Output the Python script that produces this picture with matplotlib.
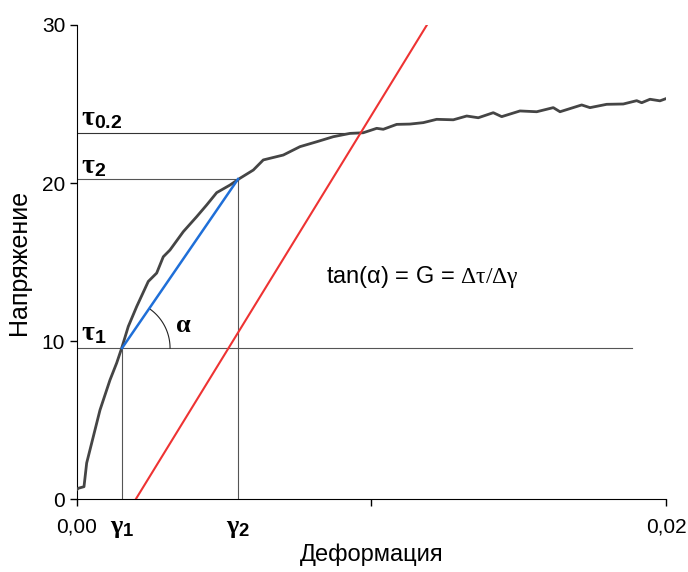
import numpy as np
import matplotlib
matplotlib.use("Agg")
import matplotlib.pyplot as plt

plt.rcParams['font.family'] = ['Liberation Sans', 'DejaVu Sans']
plt.rcParams['mathtext.fontset'] = 'custom'
plt.rcParams['mathtext.rm'] = 'Liberation Serif'
plt.rcParams['mathtext.it'] = 'Liberation Serif'
plt.rcParams['mathtext.bf'] = 'Liberation Serif:bold'
plt.rcParams['mathtext.sf'] = 'Liberation Sans:bold'

# stress-strain curve
strain = [0.0, 0.000044, 0.000238, 0.000329, 0.000499, 0.000781, 0.00112, 0.001348,
          0.001518, 0.001742, 0.002027, 0.002421, 0.002706, 0.00293, 0.003158,
          0.00361, 0.004065, 0.004404, 0.004744, 0.005195, 0.005535, 0.005987,
          0.006326, 0.007005, 0.007572, 0.008139, 0.008703, 0.00927, 0.009721,
          0.010177, 0.0104, 0.010856, 0.011307, 0.011759, 0.012214, 0.012778,
          0.013233, 0.013627, 0.014136, 0.014421, 0.015042, 0.01561, 0.016173,
          0.016401, 0.017137, 0.017419, 0.017986, 0.01855, 0.019005, 0.019175,
          0.019457, 0.019796, 0.02]
stress = [0.60, 0.68, 0.78, 2.28, 3.54, 5.63, 7.53, 8.61,
          9.55, 10.92, 12.18, 13.77, 14.30, 15.33, 15.76,
          16.92, 17.87, 18.61, 19.39, 19.87, 20.30, 20.82,
          21.46, 21.77, 22.30, 22.61, 22.93, 23.14, 23.18,
          23.46, 23.40, 23.71, 23.73, 23.82, 24.03, 24.00,
          24.24, 24.13, 24.45, 24.20, 24.56, 24.51, 24.77,
          24.51, 24.94, 24.77, 24.98, 25.00, 25.21, 25.08,
          25.30, 25.20, 25.34]

gamma1, tau1 = 0.00153, 9.55
gamma2, tau2 = 0.00547, 20.25
tau02 = 23.15
offset = 0.002          # 0.2 % offset line
slope = 3036.0          # elastic modulus line slope
tau1_line_end = 0.01885

fig = plt.figure(figsize=(6.88, 5.72), dpi=100)
ax = fig.add_axes([0.1119, 0.1276, 0.8561, 0.8287])

ax.plot(strain, stress, color='#454545', lw=2.0, zorder=3)

# offset line
red_x = np.array([offset, offset + 30 / slope])
ax.plot(red_x, slope * (red_x - offset), color='#ee3333', lw=1.5, zorder=4)

# chord between tau1 and tau2
ax.plot([gamma1, gamma2], [tau1, tau2], color='#1f6fd8', lw=1.8, zorder=4)

# helper lines
x02 = offset + tau02 / slope
ax.plot([0, x02], [tau02, tau02], color='#333333', lw=0.8, zorder=2)
ax.plot([0, gamma2], [tau2, tau2], color='#555555', lw=0.8, zorder=2)
ax.plot([0, tau1_line_end], [tau1, tau1], color='#555555', lw=0.8, zorder=2)
ax.plot([gamma1, gamma1], [0, tau1], color='#555555', lw=0.8, zorder=2)
ax.plot([gamma2, gamma2], [0, tau2], color='#555555', lw=0.8, zorder=2)

ax.set_xlim(0, 0.02)
ax.set_ylim(0, 30)

# arc for alpha, drawn in screen space
fig.canvas.draw()
c = ax.transData.transform((gamma1, tau1))
p2 = ax.transData.transform((gamma2, tau2))
ang = np.arctan2(p2[1] - c[1], p2[0] - c[0])
t = np.linspace(0, ang, 40)
r = 48
pts = np.column_stack([c[0] + r * np.cos(t), c[1] + r * np.sin(t)])
arc = ax.transData.inverted().transform(pts)
ax.plot(arc[:, 0], arc[:, 1], color='#222222', lw=0.8, zorder=3)

# labels
ax.text(0.00015, 23.65, r'$\mathbf{\tau}_{\mathsf{0.2}}$', fontsize=20, va='baseline')
ax.text(0.00015, 20.65, r'$\mathbf{\tau}_{\mathsf{2}}$', fontsize=20, va='baseline')
ax.text(0.00015, 10.05, r'$\mathbf{\tau}_{\mathsf{1}}$', fontsize=20, va='baseline')
ax.text(0.00333, 10.6, r'$\mathbf{\alpha}$', fontsize=19, va='baseline')
ax.text(gamma1, -1.1, r'$\mathbf{\gamma}_{\mathsf{1}}$', fontsize=19, va='top', ha='center')
ax.text(gamma2, -1.1, r'$\mathbf{\gamma}_{\mathsf{2}}$', fontsize=19, va='top', ha='center')
ax.text(0.00846, 14.05, r'tan(α) = G = $\mathrm{\Delta\tau/\Delta\gamma}$',
        fontsize=17, va='center')

ax.set_xticks([0, 0.01, 0.02])
ax.set_xticklabels(['0,00', '', '0,02'])
ax.set_yticks([0, 10, 20, 30])
ax.tick_params(axis='both', direction='out', length=5, width=1, labelsize=15)
ax.tick_params(axis='x', pad=8)

ax.spines['top'].set_visible(False)
ax.spines['right'].set_visible(False)

ax.set_xlabel('Деформация', fontsize=17, labelpad=5)
ax.set_ylabel('Напряжение', fontsize=18, labelpad=8)

fig.savefig('out.png', dpi=100)
